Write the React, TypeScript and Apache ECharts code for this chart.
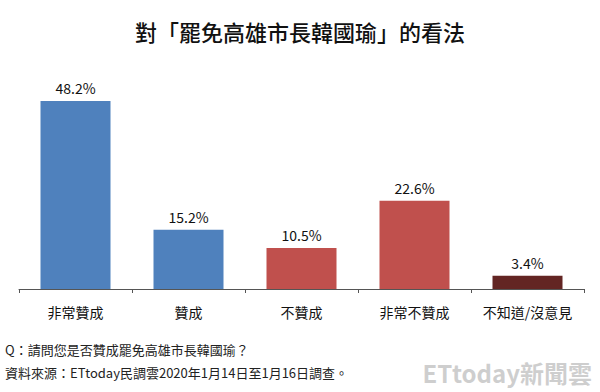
import React, { useEffect, useRef } from "react";
import * as echarts from "echarts";

const categories = ["非常贊成", "贊成", "不贊成", "非常不贊成", "不知道/沒意見"];
const values = [48.2, 15.2, 10.5, 22.6, 3.4];
const barColors = ["#4F81BD", "#4F81BD", "#C0504D", "#C0504D", "#632523"];
const titleText = "對「罷免高雄市長韓國瑜」的看法";
const questionText = "Q：請問您是否贊成罷免高雄市長韓國瑜？";
const sourceText = "資料來源：ETtoday民調雲2020年1月14日至1月16日調查。";
const watermarkText = "ETtoday新聞雲";

const FONT = "'Noto Sans CJK TC', 'Noto Sans', sans-serif";

export default function App() {
  const ref = useRef<HTMLDivElement>(null);
  useEffect(() => {
    if (!ref.current) return;
    const chart = echarts.init(ref.current, undefined, { renderer: "svg" });
    chart.setOption({
      animation: false,
      backgroundColor: "#ffffff",
      title: {
        text: titleText,
        left: "center",
        top: 15,
        textStyle: { fontFamily: FONT, fontSize: 22, fontWeight: 500, color: "#111" },
      },
      grid: { left: 19, right: 16, top: 55, bottom: 103 },
      xAxis: {
        type: "category",
        data: categories,
        axisLine: { lineStyle: { color: "#555", width: 1 } },
        axisTick: { show: true, length: 4, lineStyle: { color: "#555" } },
        axisLabel: { fontFamily: FONT, fontSize: 14, color: "#111", margin: 16, interval: 0 },
      },
      yAxis: {
        type: "value",
        min: 0,
        max: 60,
        show: false,
        splitLine: { show: false },
      },
      series: [
        {
          type: "bar",
          barWidth: 70,
          data: values.map((v, i) => ({ value: v, itemStyle: { color: barColors[i] } })),
          label: {
            show: true,
            position: "top",
            distance: 6,
            formatter: (p: any) => p.value.toFixed(1) + "%",
            fontFamily: FONT,
            fontSize: 14,
            color: "#111",
          },
        },
      ],
      graphic: [
        {
          type: "text",
          left: 5,
          top: 343,
          style: { text: questionText, font: `13px ${FONT}`, fill: "#222" },
        },
        {
          type: "text",
          left: 5,
          top: 366,
          style: { text: sourceText, font: `13px ${FONT}`, fill: "#222" },
        },
        {
          type: "text",
          right: 8,
          top: 360,
          style: { text: watermarkText, font: `bold 24px ${FONT}`, fill: "rgba(190,190,190,0.75)" },
        },
      ],
    });
    return () => chart.dispose();
  }, []);
  return <div ref={ref} style={{ width: 600, height: 392, position: "fixed", left: 0, top: 0 }} />;
}
